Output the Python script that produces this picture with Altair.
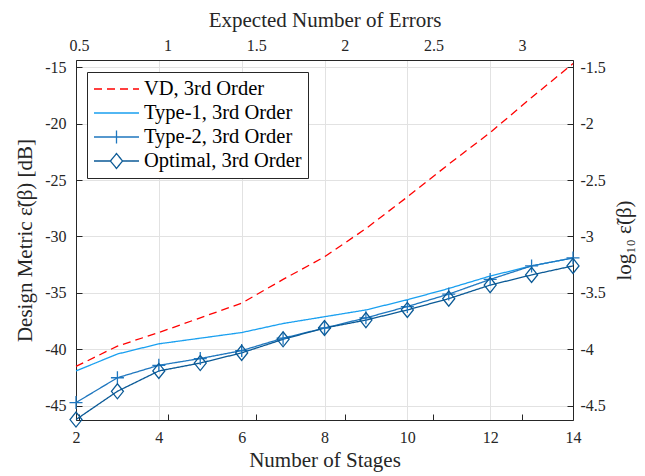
import altair as alt
import pandas as pd

stages = list(range(2, 15))
series_names = ["VD, 3rd Order", "Type-1, 3rd Order", "Type-2, 3rd Order", "Optimal, 3rd Order"]
vd = [-41.5, -39.7, -38.5, -37.2, -35.9, -33.8, -31.8, -29.3, -26.5, -23.6, -20.8, -17.7, -14.7]
type1 = [-41.9, -40.4, -39.5, -39.0, -38.5, -37.7, -37.1, -36.5, -35.6, -34.6, -33.5, -32.6, -31.9]
type2 = [-44.7, -42.5, -41.4, -40.8, -40.1, -39.0, -38.1, -37.2, -36.2, -35.1, -33.8, -32.6, -31.9]
optimal = [-46.2, -43.7, -41.9, -41.2, -40.3, -39.1, -38.1, -37.4, -36.5, -35.5, -34.3, -33.4, -32.6]
series_colors = ["#FF0000", "#1AA0F0", "#1F77BF", "#0B5A96"]

x_ticks = [2, 4, 6, 8, 10, 12, 14]
y_ticks = [-45, -40, -35, -30, -25, -20, -15]
err_ticks = [0.5, 1, 1.5, 2, 2.5, 3]
log_ticks = [-4.5, -4, -3.5, -3, -2.5, -2, -1.5]

x_dom = [2, 14]
y_dom = [-46.24, -14.38]
err_dom = [0.483, 3.288]
log_dom = [y_dom[0] / 10, y_dom[1] / 10]

rows = []
for name, vals in zip(series_names, [vd, type1, type2, optimal]):
    for s, v in zip(stages, vals):
        rows.append({"stage": s, "value": v, "series": name})
df = pd.DataFrame(rows)
axis_df = pd.DataFrame({"err": err_dom, "logv": log_dom})

FONT = "Liberation Serif"
TXT = "#262626"
W, H = 497, 360

ax_style = dict(labelFont=FONT, titleFont=FONT, labelFontSize=16, titleFontSize=21,
                labelColor=TXT, titleColor=TXT, titleFontWeight="normal", ticks=False,
                labelFlush=False, labelOverlap=False, labelExpr="'' + datum.value")

color = alt.Color("series:N", scale=alt.Scale(domain=series_names, range=series_colors),
                  legend=alt.Legend(title=None))
dash = alt.StrokeDash("series:N", scale=alt.Scale(domain=series_names, range=[[8, 5], [1, 0], [1, 0], [1, 0]]),
                      legend=alt.Legend(title=None))
leg_paths = [
    "M-1,0H1",
    "M-1,0H1",
    "M-1,0H1M0,-0.29V0.29",
    "M-1,0H-0.27M0.27,0H1M-0.27,0L0,-0.33L0.27,0L0,0.33Z",
]
shape = alt.Shape("series:N", scale=alt.Scale(domain=series_names, range=leg_paths),
                  legend=alt.Legend(title=None))

x_enc = alt.X("stage:Q", scale=alt.Scale(domain=x_dom, nice=False, zero=False),
              axis=alt.Axis(orient="bottom", values=x_ticks, title="Number of Stages", grid=True,
                            labelPadding=9, titlePadding=4, **ax_style))
y_enc = alt.Y("value:Q", scale=alt.Scale(domain=y_dom, nice=False, zero=False),
              axis=alt.Axis(orient="left", values=y_ticks, title="Design Metric ε̃(β) [dB]", grid=True,
                            labelPadding=10, titlePadding=9, **ax_style))

lines = alt.Chart(df).mark_line(strokeWidth=1.3).encode(x=x_enc, y=y_enc, color=color, strokeDash=dash)

type2_pts = alt.Chart(df).transform_filter(alt.datum.series == "Type-2, 3rd Order").mark_point(
    shape="M-1,0H1M0,-1V1", size=169, filled=False, strokeWidth=1.3, opacity=1
).encode(x=x_enc, y=y_enc, color=color)

opt_pts = alt.Chart(df).transform_filter(alt.datum.series == "Optimal, 3rd Order").mark_point(
    shape="M-1,0L0,-1.25L1,0L0,1.25Z", size=144, filled=False, strokeWidth=1.3, opacity=1
).encode(x=x_enc, y=y_enc, color=color)

legend_layer = alt.Chart(df).transform_filter("datum.value > 1000").mark_point(
    filled=False, size=2025, strokeWidth=1.3, opacity=1
).encode(x=x_enc, y=y_enc, color=color, shape=shape)

inner = alt.layer(lines, type2_pts, opt_pts, legend_layer)

axis_layer = alt.Chart(axis_df).mark_point(opacity=0).encode(
    x=alt.X("err:Q", scale=alt.Scale(domain=err_dom, nice=False, zero=False),
            axis=alt.Axis(orient="top", values=err_ticks, title="Expected Number of Errors",
                          grid=True, gridColor=TXT, gridDash=[6, 2000],
                          labelPadding=7, titlePadding=7, **ax_style)),
    y=alt.Y("logv:Q", scale=alt.Scale(domain=log_dom, nice=False, zero=False),
            axis=alt.Axis(orient="right", values=log_ticks, title="log₁₀ ε̃(β)",
                          grid=True, gridColor=TXT, gridDash=[6, W - 12, 6, 200],
                          labelPadding=7, titlePadding=8, titleAngle=270, titleBaseline="top",
                          **ax_style)),
)

chart = alt.layer(inner, axis_layer).resolve_scale(x="independent", y="independent").properties(
    width=W, height=H,
    autosize=alt.AutoSizeParams(type="none"),
    padding={"left": 68, "top": 52, "right": 64, "bottom": 56},
).configure_view(stroke=TXT, strokeWidth=1).configure_axis(
    domainColor=TXT, domainWidth=1, gridColor="#E2E2E2", gridWidth=1,
).configure_legend(
    orient="none", legendX=11, legendY=12, strokeColor=TXT, fillColor="white",
    padding=6, labelFont=FONT, labelFontSize=20.5, labelColor="#000000",
    symbolSize=2025, symbolStrokeWidth=1.3, clipHeight=22, rowPadding=2,
    labelOffset=4, labelLimit=400, cornerRadius=0,
)

chart.save("out.html", embed_options={"renderer": "svg", "actions": False})
